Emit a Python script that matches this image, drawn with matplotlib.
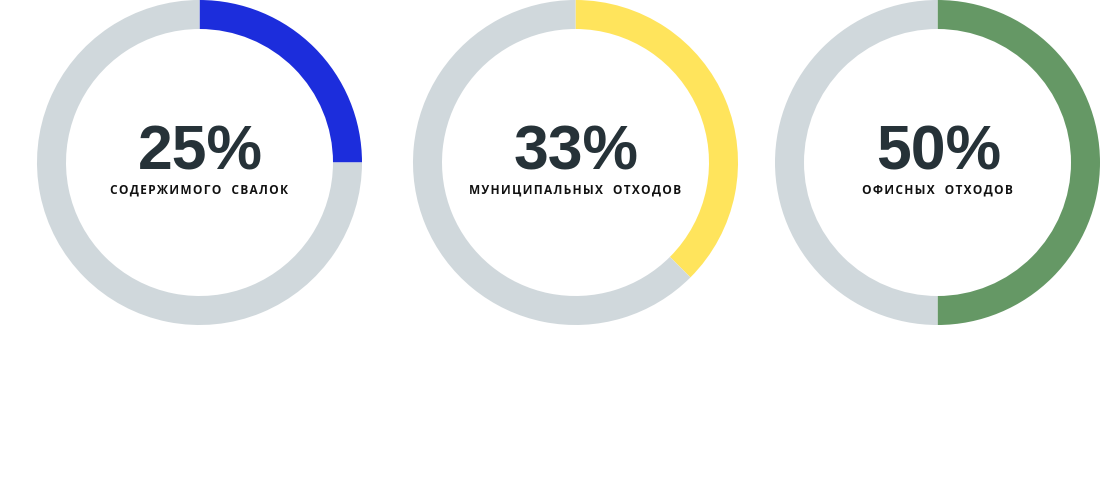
import matplotlib
matplotlib.use('Agg')
import matplotlib.pyplot as plt

# values shown on the rings
labels = ['25%', '33%', '50%']
captions = ['СОДЕРЖИМОГО  СВАЛОК', 'МУНИЦИПАЛЬНЫХ  ОТХОДОВ', 'ОФИСНЫХ  ОТХОДОВ']
fill = [0.25, 0.375, 0.50]   # arc share as drawn
colors = ['#1c2ddc', '#ffe45c', '#659865']
track = '#d0d8dc'

centers_x = [199.5, 575.5, 937.5]
center_y = 483 - 162.5
radius = 162.5
ring = 29

fig = plt.figure(figsize=(11, 4.83), dpi=100)
ax = fig.add_axes([0, 0, 1, 1])

for i in range(len(labels)):
    ax.pie([fill[i], 1 - fill[i]], colors=[colors[i], track], startangle=90,
           counterclock=False, radius=radius, center=(centers_x[i], center_y),
           wedgeprops=dict(width=ring, linewidth=0), frame=True)
    ax.text(centers_x[i] + 1, 483 - 169, labels[i], ha='center', va='baseline',
            fontsize=45, fontweight='bold', color='#263238',
            family=['Liberation Sans', 'DejaVu Sans'])
    spaced = '\u200a'.join(captions[i])
    ax.text(centers_x[i], 483 - 190.5, spaced, ha='center', va='center',
            fontsize=8.6, fontweight='bold', color='#111111',
            family=['Open Sans', 'DejaVu Sans'])

ax.set_xlim(0, 1100)
ax.set_ylim(0, 483)
ax.set_aspect('equal')
ax.axis('off')

fig.savefig('out.png', dpi=100)
